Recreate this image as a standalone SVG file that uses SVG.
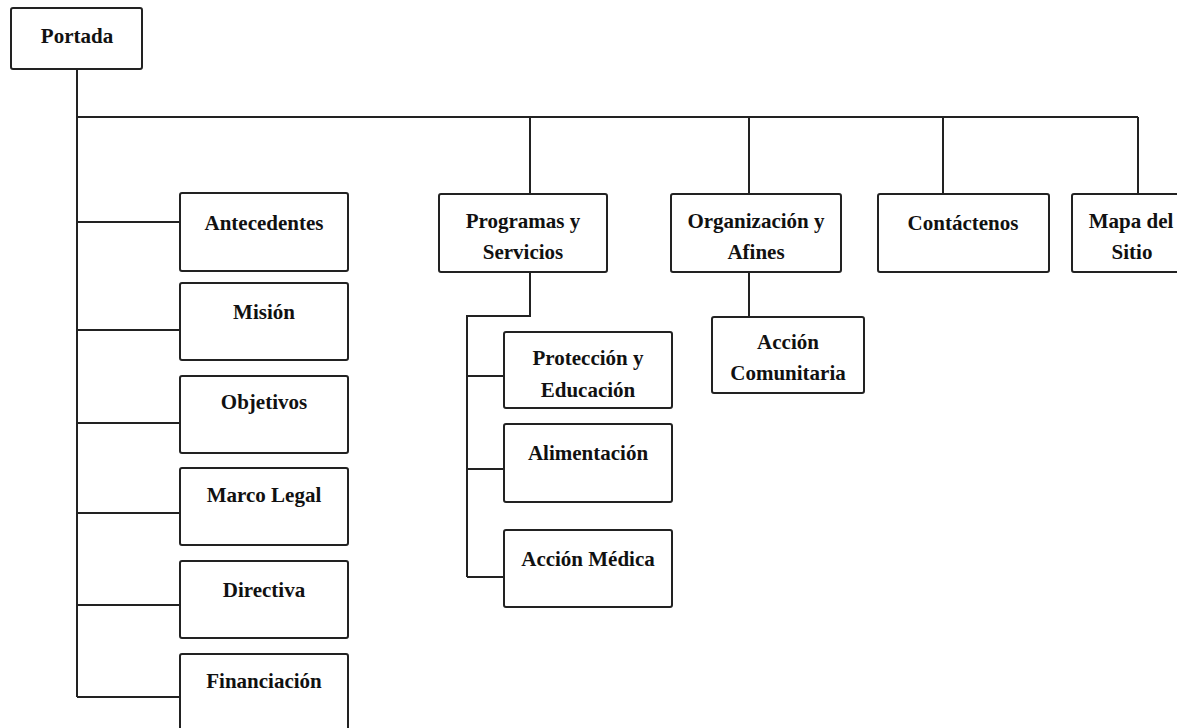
<svg xmlns="http://www.w3.org/2000/svg" width="1177" height="728" viewBox="0 0 1177 728">
<style>
.box{fill:#fff;stroke:#222;stroke-width:2}
.ln{fill:none;stroke:#222;stroke-width:2}
text{font-family:"Liberation Serif","Times New Roman",serif;font-weight:bold;font-size:21px;fill:#111;text-anchor:middle}
</style>
<rect width="1177" height="728" fill="#fff"/>
<g id="connectors">
<path class="ln" d="M77 69V697M77 117H1138M77 222H180M77 330H180M77 423H180M77 513H180M77 605H180M77 697H180"/>
<path class="ln" d="M530 117V194M749 117V194M943 117V194M1138 117V194"/>
<path class="ln" d="M530 272V316H467V577M467 376H504M467 469H504M467 577H504"/>
<path class="ln" d="M749 272V317"/>
</g>
<g id="portada"><rect class="box" x="11" y="8" width="131" height="61" rx="2"/><text x="77" y="43">Portada</text></g>
<g id="antecedentes"><rect class="box" x="180" y="193" width="168" height="78" rx="2"/><text x="264" y="230">Antecedentes</text></g>
<g id="mision"><rect class="box" x="180" y="283" width="168" height="77" rx="2"/><text x="264" y="319">Misión</text></g>
<g id="objetivos"><rect class="box" x="180" y="376" width="168" height="77" rx="2"/><text x="264" y="409">Objetivos</text></g>
<g id="marco"><rect class="box" x="180" y="468" width="168" height="77" rx="2"/><text x="264" y="502">Marco Legal</text></g>
<g id="directiva"><rect class="box" x="180" y="561" width="168" height="77" rx="2"/><text x="264" y="597">Directiva</text></g>
<g id="financiacion"><rect class="box" x="180" y="654" width="168" height="80" rx="2"/><text x="264" y="688">Financiación</text></g>
<g id="programas"><rect class="box" x="439" y="194" width="168" height="78" rx="2"/><text x="523" y="228">Programas y</text><text x="523" y="259">Servicios</text></g>
<g id="proteccion"><rect class="box" x="504" y="332" width="168" height="76" rx="2"/><text x="588" y="365">Protección y</text><text x="588" y="397">Educación</text></g>
<g id="alimentacion"><rect class="box" x="504" y="424" width="168" height="78" rx="2"/><text x="588" y="460">Alimentación</text></g>
<g id="medica"><rect class="box" x="504" y="530" width="168" height="77" rx="2"/><text x="588" y="566">Acción Médica</text></g>
<g id="organizacion"><rect class="box" x="671" y="194" width="170" height="78" rx="2"/><text x="756" y="228">Organización y</text><text x="756" y="259">Afines</text></g>
<g id="comunitaria"><rect class="box" x="712" y="317" width="152" height="76" rx="2"/><text x="788" y="349">Acción</text><text x="788" y="380">Comunitaria</text></g>
<g id="contactenos"><rect class="box" x="878" y="194" width="171" height="78" rx="2"/><text x="963" y="230">Contáctenos</text></g>
<g id="mapa"><rect class="box" x="1072" y="194" width="168" height="78" rx="2"/><text x="1131" y="228">Mapa del</text><text x="1132" y="259">Sitio</text></g>
</svg>
